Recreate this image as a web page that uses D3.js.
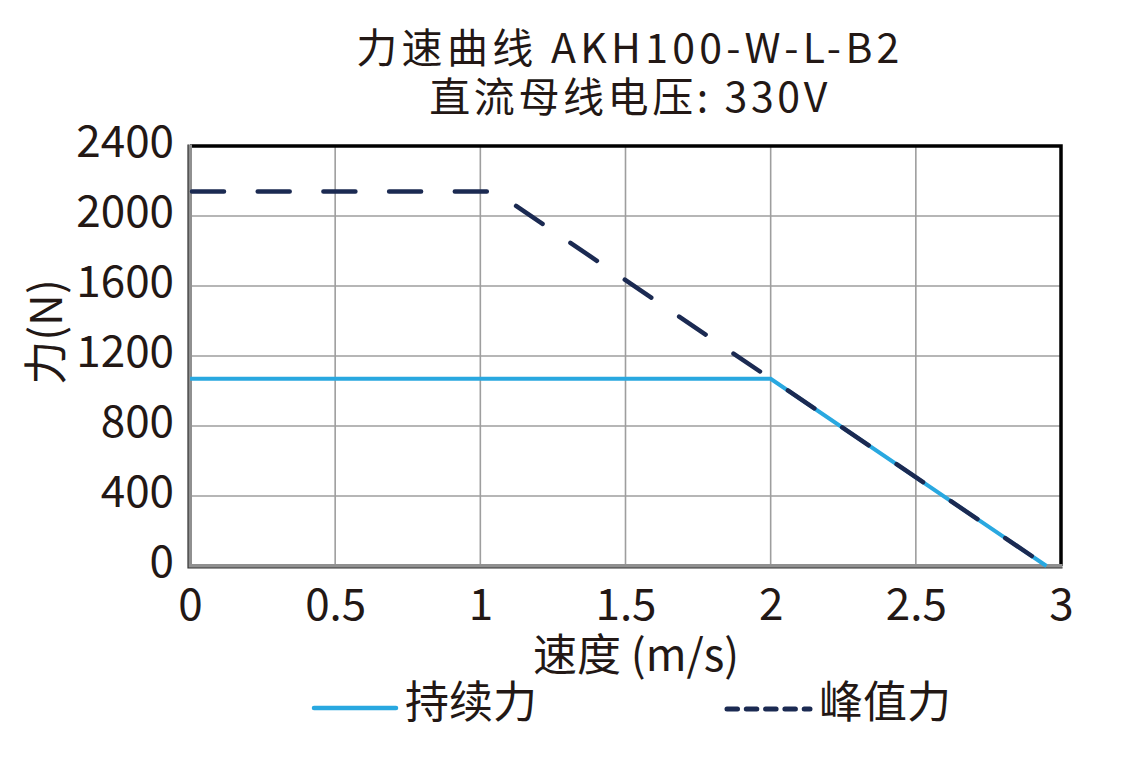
<!DOCTYPE html>
<html><head><meta charset="utf-8">
<script src="https://cdn.jsdelivr.net/npm/d3@7"></script>
<style>
html,body{margin:0;padding:0;background:#fff;}
svg{display:block;font-family:"Noto Sans CJK SC","Noto Sans",sans-serif;}
</style></head>
<body>
<svg id="chart" width="1130" height="762"></svg>
<script>
// ---- data ----
const titleLines = ["力速曲线 AKH100-W-L-B2", "直流母线电压: 330V"];
const xTicks = [0, 0.5, 1, 1.5, 2, 2.5, 3];
const yTicks = [0, 400, 800, 1200, 1600, 2000, 2400];
const contSpeed = [0, 2, 2.95];
const contForce = [1070, 1070, 0];
const peakSpeed = [0, 1.05, 2.95];
const peakForce = [2140, 2140, 0];
const seriesNames = ["持续力", "峰值力"];
const xLabel = "速度 (m/s)";
const yLabel = "力(N)";

const svg = d3.select("#chart");
const L = 190, R = 1061, T = 146, B = 566;
const x = d3.scaleLinear().domain([0, 3]).range([L, R]);
const y = d3.scaleLinear().domain([0, 2400]).range([B, T]);
const textColor = "#231815";
const blue = "#29a8e0", navy = "#1b2a52";

// grid
svg.append("g").selectAll("line").data(xTicks.slice(1, -1)).join("line")
  .attr("x1", d => x(d)).attr("x2", d => x(d)).attr("y1", T).attr("y2", B)
  .attr("stroke", "#9e9e9e").attr("stroke-width", 1.6);
svg.append("g").selectAll("line").data(yTicks.slice(1, -1)).join("line")
  .attr("x1", L).attr("x2", R).attr("y1", d => y(d)).attr("y2", d => y(d))
  .attr("stroke", "#9e9e9e").attr("stroke-width", 1.6);

// frame: top & right black
svg.append("path").attr("d", `M${L},${T}H${R}V${B}`)
  .attr("fill", "none").attr("stroke", "#000").attr("stroke-width", 3.5);

// axes (left & bottom) via d3 axes
const xAxis = d3.axisBottom(x).tickValues(xTicks).tickSize(0).tickPadding(0).tickFormat(d => String(d));
const yAxis = d3.axisLeft(y).tickValues(yTicks).tickSize(0).tickPadding(0).tickFormat(d => String(d));

const gx = svg.append("g").attr("transform", `translate(0,${B})`).call(xAxis);
gx.select(".domain").remove();
gx.selectAll("text").attr("font-size", 44).attr("fill", textColor)
  .attr("font-family", '"Noto Sans CJK SC","Noto Sans",sans-serif')
  .attr("dy", null).attr("y", 54);

const gy = svg.append("g").attr("transform", `translate(${L},0)`).call(yAxis);
gy.select(".domain").remove();
gy.selectAll("text").attr("font-size", 44).attr("fill", textColor)
  .attr("font-family", '"Noto Sans CJK SC","Noto Sans",sans-serif')
  .attr("dy", null).attr("x", -16).attr("y", 10);

// left & bottom axis lines (gray band with dark edge)
svg.append("path").attr("d", `M${L},${T - 1.5}V${B}H${R + 1.5}`)
  .attr("fill", "none").attr("stroke", "#909090").attr("stroke-width", 4);
svg.append("path").attr("d", `M${L - 2},${T - 1.5}V${B + 2}H${R + 1.5}`)
  .attr("fill", "none").attr("stroke", "#333").attr("stroke-width", 1.2);

// lines
const line = d3.line().x(d => x(d[0])).y(d => y(d[1]));
svg.append("path").datum(contSpeed.map((s, i) => [s, contForce[i]]))
  .attr("d", line).attr("fill", "none").attr("stroke", blue).attr("stroke-width", 4);
svg.append("path").datum(peakSpeed.map((s, i) => [s, peakForce[i]]))
  .attr("d", line).attr("fill", "none").attr("stroke", navy).attr("stroke-width", 4.5)
  .attr("stroke-dasharray", "32,33.7").attr("stroke-linecap", "round")
  .attr("stroke-dashoffset", -2);

// title
svg.append("text").attr("x", 630).attr("y", 63).attr("text-anchor", "middle")
  .attr("font-size", 41).attr("letter-spacing", 4.3).attr("fill", textColor).text(titleLines[0]);
svg.append("text").attr("x", 630).attr("y", 112).attr("text-anchor", "middle")
  .attr("font-size", 41).attr("letter-spacing", 3.6).attr("fill", textColor).text(titleLines[1]);

// axis titles
svg.append("text").attr("x", 636).attr("y", 671).attr("text-anchor", "middle")
  .attr("font-size", 44).attr("fill", textColor).text(xLabel);
svg.append("text").attr("transform", "translate(62,332) rotate(-90)").attr("text-anchor", "middle")
  .attr("font-size", 44).attr("fill", textColor).text(yLabel);

// legend
svg.append("line").attr("x1", 314).attr("x2", 396).attr("y1", 708).attr("y2", 708)
  .attr("stroke", blue).attr("stroke-width", 4.5).attr("stroke-linecap", "round");
svg.append("text").attr("x", 405).attr("y", 718).attr("font-size", 44).attr("fill", textColor).text(seriesNames[0]);
svg.append("line").attr("x1", 727).attr("x2", 810).attr("y1", 709).attr("y2", 709)
  .attr("stroke", navy).attr("stroke-width", 5).attr("stroke-linecap", "round")
  .attr("stroke-dasharray", "10.5,8.8");
svg.append("text").attr("x", 819).attr("y", 718).attr("font-size", 44).attr("fill", textColor).text(seriesNames[1]);
</script>
</body></html>
